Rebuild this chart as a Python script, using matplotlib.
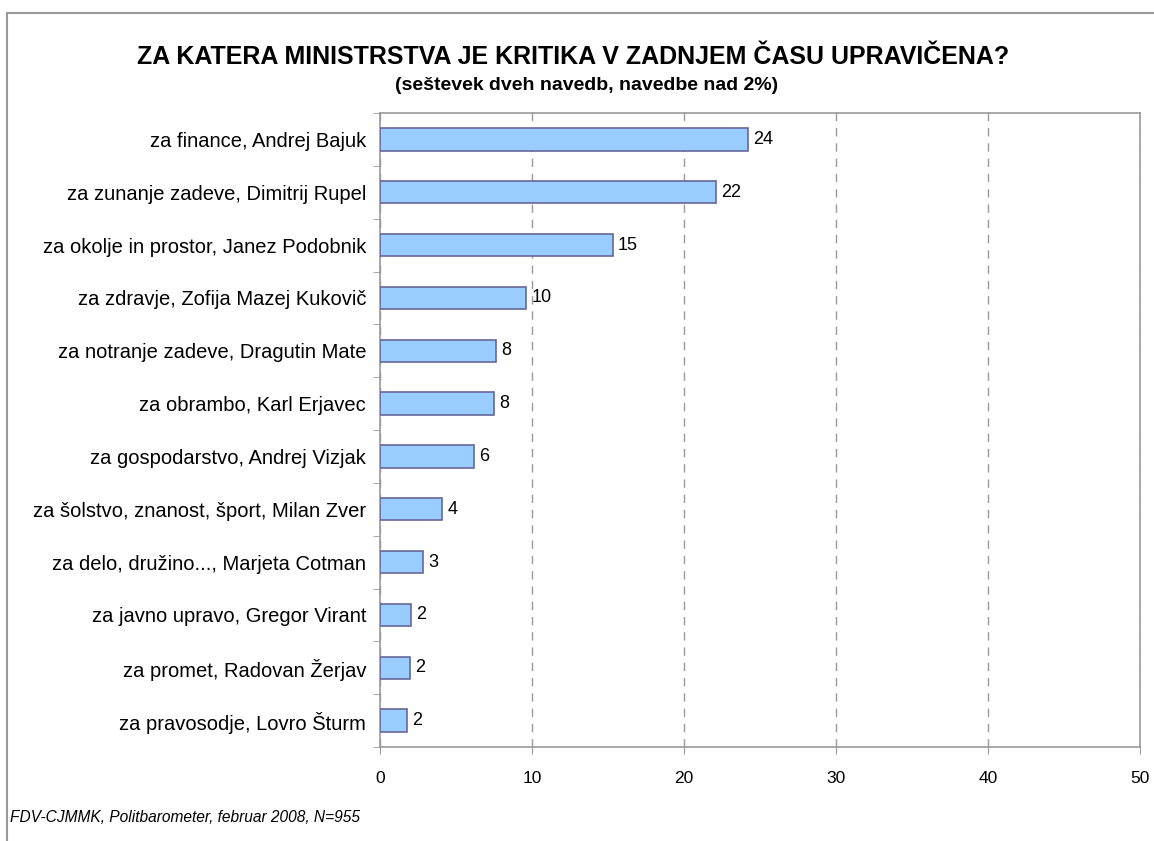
import matplotlib.pyplot as plt
from matplotlib.patches import Rectangle

# data (top to bottom, as shown)
categories = [
    "za finance, Andrej Bajuk",
    "za zunanje zadeve, Dimitrij Rupel",
    "za okolje in prostor, Janez Podobnik",
    "za zdravje, Zofija Mazej Kukovič",
    "za notranje zadeve, Dragutin Mate",
    "za obrambo, Karl Erjavec",
    "za gospodarstvo, Andrej Vizjak",
    "za šolstvo, znanost, šport, Milan Zver",
    "za delo, družino..., Marjeta Cotman",
    "za javno upravo, Gregor Virant",
    "za promet, Radovan Žerjav",
    "za pravosodje, Lovro Šturm",
]
values = [24.2, 22.1, 15.3, 9.6, 7.6, 7.5, 6.2, 4.1, 2.8, 2.05, 1.95, 1.75]
value_labels = ["24", "22", "15", "10", "8", "8", "6", "4", "3", "2", "2", "2"]
x_ticks = [0, 10, 20, 30, 40, 50]

plt.rcParams['font.family'] = ['Liberation Sans', 'DejaVu Sans']

fig = plt.figure(figsize=(11.54, 8.41), dpi=100)
W, H = 1154, 841
ax = fig.add_axes([380 / W, 1 - 747 / H, (1140 - 380) / W, (747 - 113) / H])

# outer frame of the chart area
fig.patches.append(Rectangle((7 / W, -0.1), 1.2, 1 - 13 / H + 0.1, transform=fig.transFigure,
                             fill=False, edgecolor='#999999', linewidth=1.5))

n = len(categories)
ypos = list(range(n))
ax.barh(ypos, values, height=0.42, color='#99CCFF', edgecolor='#666699', linewidth=1.2, zorder=3)
for y, v, lab in zip(ypos, values, value_labels):
    ax.text(v + 0.35, y, lab, va='center', ha='left', fontsize=13, zorder=4)

ax.set_xlim(0, 50)
ax.set_ylim(n - 0.5, -0.5)
ax.set_xticks(x_ticks)
ax.set_xticklabels([str(t) for t in x_ticks], fontsize=12.5)
ax.set_yticks(ypos)
ax.set_yticklabels(categories, fontsize=14.5)
ax.tick_params(axis='y', length=0, pad=10)
ax.tick_params(axis='x', length=5, color='#999999', pad=12)
# small boundary ticks on y axis
ax.set_yticks([i - 0.5 for i in range(n + 1)], minor=True)
ax.tick_params(axis='y', which='minor', length=5, color='#999999')
ax.xaxis.grid(True, linestyle=(0, (6, 5)), color='#999999', linewidth=1)
ax.set_axisbelow(True)
for s in ax.spines.values():
    s.set_color('#999999')
    s.set_linewidth(1.2)

fig.text(0.497, 1 - 57 / H, "ZA KATERA MINISTRSTVA JE KRITIKA V ZADNJEM ČASU UPRAVIČENA?",
         ha='center', va='center', fontsize=18, fontweight='bold')
fig.text(0.508, 1 - 86 / H, "(seštevek dveh navedb, navedbe nad 2%)",
         ha='center', va='center', fontsize=14, fontweight='bold')
fig.text(10 / W, 1 - 817 / H, "FDV-CJMMK, Politbarometer, februar 2008, N=955",
         ha='left', va='center', fontsize=11.2, style='italic')

fig.savefig("out.png", dpi=100)
